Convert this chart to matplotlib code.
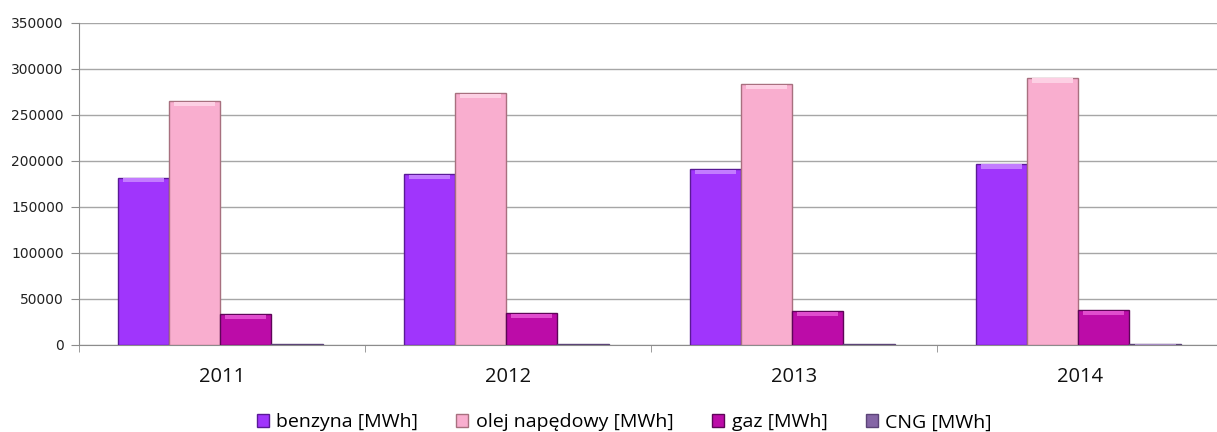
import matplotlib
matplotlib.use("Agg")

import numpy as np
import matplotlib.pyplot as plt
from matplotlib.patches import Patch

years = ["2011", "2012", "2013", "2014"]
series_names = ["benzyna [MWh]", "olej napędowy [MWh]", "gaz [MWh]", "CNG [MWh]"]
benzyna = [182000, 185500, 191500, 197000]
olej = [265000, 273500, 283500, 290500]
gaz = [33500, 34500, 36500, 37500]
cng = [1000, 1000, 1000, 1500]

colors = ["#A035FC", "#F9AECF", "#BC0CA8", "#8566A6"]
edges = ["#5A1A96", "#A8707F", "#5E0558", "#5C4478"]
highlights = ["#C37CFF", "#FDD0E4", "#E04DCE", "#A68AC4"]

fig = plt.figure(figsize=(12.17, 4.32), dpi=100)
ax = fig.add_axes([0.0649, 0.2014, 0.94, 0.7454])

x = np.arange(len(years)) + 0.5
w = 0.179
values = [benzyna, olej, gaz, cng]
for i, vals in enumerate(values):
    pos = x + (i - 1.5) * w - 0.006
    ax.bar(pos, vals, width=w, color=colors[i], edgecolor=edges[i],
           linewidth=1.0, zorder=3)
    # bevel highlight along the top of each bar
    cap = [min(4500, v * 0.12) for v in vals]
    ax.bar(pos, cap, bottom=np.array(vals) - np.array(cap) - 800,
           width=w * 0.8, color=highlights[i], linewidth=0, zorder=4)

ax.set_xlim(0, 4)
ax.set_ylim(0, 350000)
ax.set_yticks(np.arange(0, 350001, 50000))
ax.set_yticklabels([str(v) for v in range(0, 350001, 50000)],
                   fontsize=10, family="DejaVu Sans", color="#222222")
ax.tick_params(axis="y", length=6, color="#8C8C8C", pad=5)

ax.set_xticks(x)
ax.set_xticklabels(years, fontsize=14.5, family="Open Sans", color="#111111")
ax.tick_params(axis="x", length=0, pad=16)
ax.set_xticks(np.arange(0, 5), minor=True)
ax.tick_params(axis="x", which="minor", length=5, color="#8C8C8C")

ax.grid(axis="y", color="#A6A6A6", linewidth=1.0, zorder=0)
for side in ["top", "right"]:
    ax.spines[side].set_visible(False)
ax.spines["left"].set_color("#8C8C8C")
ax.spines["bottom"].set_color("#8C8C8C")

handles = [Patch(facecolor=colors[i], edgecolor=edges[i]) for i in range(4)]
fig.legend(handles, series_names, loc="center", bbox_to_anchor=(0.513, 0.022),
           ncol=4, frameon=False, handlelength=0.62,
           handleheight=0.62, handletextpad=0.4, columnspacing=1.95,
           prop={"family": "Open Sans", "size": 14})

fig.savefig("out.png", dpi=100)
